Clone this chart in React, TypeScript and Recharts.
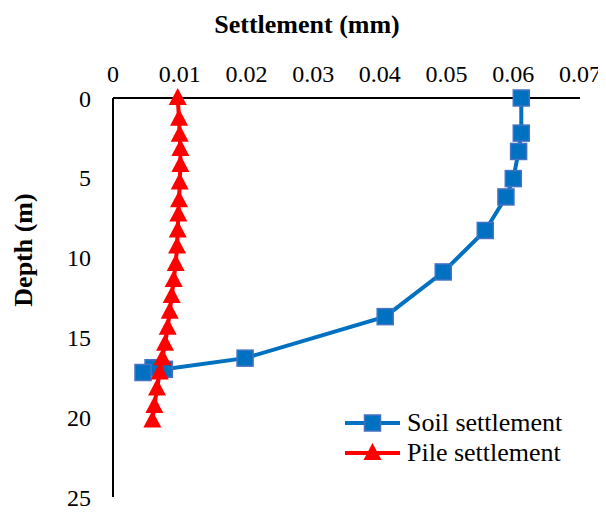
import { ScatterChart, Scatter, XAxis, YAxis, Legend, Label } from 'recharts';

// depth (m) and settlement (mm)
const soilDepth = [0, 2.2, 3.35, 5.05, 6.2, 8.3, 10.9, 13.7, 16.3, 17.0, 16.9, 17.2];
const soilSettlement = [0.0612, 0.0612, 0.0608, 0.06, 0.0589, 0.0558, 0.0495, 0.0408, 0.0198, 0.0077, 0.006, 0.0045];

const pileDepth = [0, 1.3, 2.3, 3.2, 4.2, 5.3, 6.4, 7.3, 8.3, 9.3, 10.4, 11.4, 12.4, 13.4, 14.4, 15.4, 16.3, 17.2, 18.2, 19.3, 20.2];
const pileSettlement = [0.0097, 0.0099, 0.01, 0.0101, 0.0101, 0.01, 0.0099, 0.0098, 0.0097, 0.0096, 0.0094, 0.0091, 0.0088, 0.0085, 0.0082, 0.0078, 0.0074, 0.007, 0.0066, 0.0062, 0.0059];

const settlementTicks = [0, 0.01, 0.02, 0.03, 0.04, 0.05, 0.06, 0.07];
const depthTicks = [0, 5, 10, 15, 20, 25];

const SOIL_COLOR = '#0070C0';
const SOIL_EDGE = '#4472C4';
const PILE_COLOR = '#FF0000';
const FONT = '"Liberation Serif", "Times New Roman", serif';

const soilData = soilDepth.map((d, i) => ({ depth: d, settlement: soilSettlement[i] }));
const pileData = pileDepth.map((d, i) => ({ depth: d, settlement: pileSettlement[i] }));

function SquareMarker(props: any) {
  const { cx, cy } = props;
  return (
    <rect x={cx - 8} y={cy - 8} width={16} height={16} fill={SOIL_COLOR} stroke={SOIL_EDGE} strokeWidth={1.5} />
  );
}

function TriangleMarker(props: any) {
  const { cx, cy } = props;
  return <polygon points={`${cx},${cy - 10} ${cx - 9},${cy + 7} ${cx + 9},${cy + 7}`} fill={PILE_COLOR} />;
}

const legendItems = [
  { name: 'Soil settlement', color: SOIL_COLOR, kind: 'square' },
  { name: 'Pile settlement', color: PILE_COLOR, kind: 'triangle' },
];

function LegendBox() {
  return (
    <div style={{ fontFamily: FONT, fontSize: 26, color: '#000' }}>
      {legendItems.map((item) => (
        <div key={item.name} style={{ display: 'flex', alignItems: 'center', height: 30 }}>
          <svg width={60} height={24} style={{ marginRight: 2 }}>
            <line x1={0} y1={12} x2={55} y2={12} stroke={item.color} strokeWidth={4} />
            {item.kind === 'square' ? (
              <rect x={19.5} y={4} width={16} height={16} fill={item.color} stroke={SOIL_EDGE} strokeWidth={1.5} />
            ) : (
              <polygon points="27.5,2 18.5,19 36.5,19" fill={item.color} />
            )}
          </svg>
          <span>{item.name}</span>
        </div>
      ))}
    </div>
  );
}

export default function App() {
  const tickStyle = { fill: '#000', fontSize: 24, fontFamily: FONT };
  return (
    <ScatterChart width={598} height={504} margin={{ top: 50, right: 26, bottom: 15, left: 45 }}>
      <XAxis
        type="number"
        dataKey="settlement"
        orientation="top"
        domain={[0, 0.07]}
        ticks={settlementTicks}
        height={40}
        tickLine={false}
        tickSize={0}
        tickMargin={16}
        axisLine={{ stroke: '#000', strokeWidth: 2 }}
        tick={tickStyle}
        allowDataOverflow
      >
        <Label
          content={() => (
            <text x={299} y={25} textAnchor="middle" fontFamily={FONT} fontSize={26} fontWeight="bold" fill="#000">
              Settlement (mm)
            </text>
          )}
        />
      </XAxis>
      <YAxis
        type="number"
        dataKey="depth"
        reversed
        domain={[0, 25]}
        ticks={depthTicks}
        width={60}
        tickLine={false}
        tickSize={0}
        tickMargin={22}
        axisLine={{ stroke: '#000', strokeWidth: 2 }}
        tick={tickStyle}
      >
        <Label
          content={() => (
            <text
              x={24}
              y={242}
              transform="rotate(-90 24 242)"
              textAnchor="middle"
              fontFamily={FONT}
              fontSize={26}
              fontWeight="bold"
              fill="#000"
            >
              Depth (m)
            </text>
          )}
        />
      </YAxis>
      <Legend
        layout="horizontal"
        verticalAlign="middle"
        content={() => <LegendBox />}
        wrapperStyle={{ left: 337, top: 400, width: 260 }}
      />
      <Scatter
        name="Soil settlement"
        data={soilData}
        line={{ stroke: SOIL_COLOR, strokeWidth: 4 }}
        lineType="joint"
        shape={SquareMarker}
        fill={SOIL_COLOR}
        isAnimationActive={false}
      />
      <Scatter
        name="Pile settlement"
        data={pileData}
        line={{ stroke: PILE_COLOR, strokeWidth: 4 }}
        lineType="joint"
        shape={TriangleMarker}
        fill={PILE_COLOR}
        isAnimationActive={false}
      />
    </ScatterChart>
  );
}
